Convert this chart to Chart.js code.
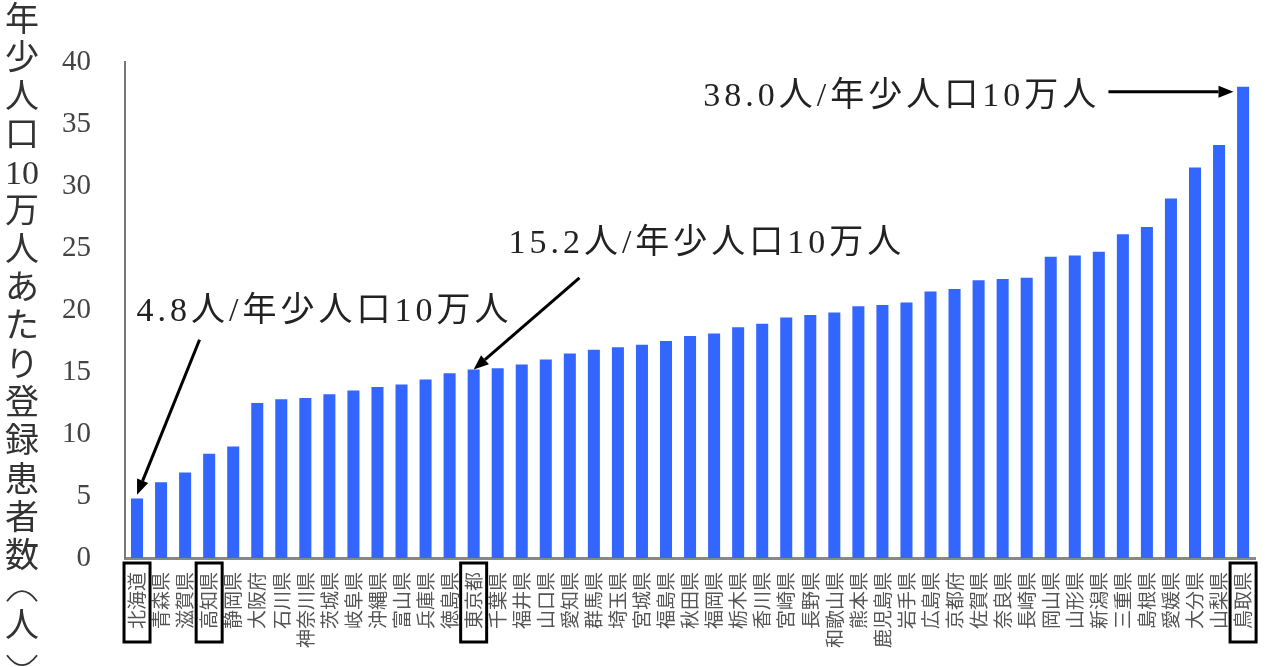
<!DOCTYPE html>
<html>
<head>
  <meta charset="utf-8">
  <title>年少人口10万人あたり登録患者数</title>
  <script src="https://cdn.jsdelivr.net/npm/chart.js"></script>
  <style>
    html, body { margin: 0; padding: 0; background: #fff; }
    #wrap { position: relative; width: 1272px; height: 667px; }
  </style>
</head>
<body>
  <div id="wrap"><canvas id="bars"></canvas></div>

  <script>
    // prefectures, sorted ascending
    const prefectures = [
      '北海道', '青森県', '滋賀県', '高知県', '静岡県', '大阪府', '石川県', '神奈川県',
      '茨城県', '岐阜県', '沖縄県', '富山県', '兵庫県', '徳島県', '東京都', '千葉県',
      '福井県', '山口県', '愛知県', '群馬県', '埼玉県', '宮城県', '福島県', '秋田県',
      '福岡県', '栃木県', '香川県', '宮崎県', '長野県', '和歌山県', '熊本県', '鹿児島県',
      '岩手県', '広島県', '京都府', '佐賀県', '奈良県', '長崎県', '岡山県', '山形県',
      '新潟県', '三重県', '島根県', '愛媛県', '大分県', '山梨県', '鳥取県'
    ];
    const patients = [
      4.8, 6.1, 6.9, 8.4, 9.0, 12.5, 12.8, 12.9,
      13.2, 13.5, 13.8, 14.0, 14.4, 14.9, 15.2, 15.3,
      15.6, 16.0, 16.5, 16.8, 17.0, 17.2, 17.5, 17.9,
      18.1, 18.6, 18.9, 19.4, 19.6, 19.8, 20.3, 20.4,
      20.6, 21.5, 21.7, 22.4, 22.5, 22.6, 24.3, 24.4,
      24.7, 26.1, 26.7, 29.0, 31.5, 33.3, 38.0
    ];
    const boxed = ['北海道', '高知県', '東京都', '鳥取県'];
    // vertical axis title; '(' and ')' are drawn as flat arcs
    const yTitle = ['年', '少', '人', '口', '10', '万', '人', 'あ', 'た', 'り', '登', '録', '患', '者', '数', '（', '人', '）'];

    // callouts: text placed in data units, arrow from (fromX, fromY) to the bar
    const callouts = [
      { text: '4.8人/年少人口10万人', tx: 7.8, ty: 19.8, fromX: 2.6, fromY: 17.6, toX: 0, toY: 5.1 },
      { text: '15.2人/年少人口10万人', tx: 23.7, ty: 25.3, fromX: 18.4, fromY: 22.6, toX: 14, toY: 15.2 },
      { text: '38.0人/年少人口10万人', tx: 31.8, ty: 37.2, fromX: 40.4, fromY: 37.6, toX: 45.6, toY: 37.6 }
    ];

    const canvas = document.getElementById('bars');
    canvas.width = 1272;
    canvas.height = 667;
    const ctx = canvas.getContext('2d');

    const LABEL_FONT = '19px "Noto Sans CJK JP"';
    const NOTE_FONT = '34px "Liberation Serif", "Noto Sans CJK JP"';

    function arrow(c, x1, y1, x2, y2) {
      const ang = Math.atan2(y2 - y1, x2 - x1);
      const head = 15, half = 6;
      const bx = x2 - head * Math.cos(ang), by = y2 - head * Math.sin(ang);
      c.beginPath();
      c.moveTo(x1, y1);
      c.lineTo(bx, by);
      c.stroke();
      c.beginPath();
      c.moveTo(x2, y2);
      c.lineTo(bx + half * Math.sin(ang), by - half * Math.cos(ang));
      c.lineTo(bx - half * Math.sin(ang), by + half * Math.cos(ang));
      c.closePath();
      c.fill();
    }

    const extras = {
      id: 'extras',
      afterDraw(chart) {
        const c = chart.ctx;
        const xs = chart.scales.x, ys = chart.scales.y;
        c.save();

        // y title, stacked vertically
        c.fillStyle = '#333';
        c.strokeStyle = '#333';
        c.lineWidth = 1.8;
        c.font = '34px "Liberation Serif", "Noto Sans CJK JP"';
        c.textAlign = 'center';
        c.textBaseline = 'middle';
        let y = 22;
        yTitle.forEach((ch, i) => {
          if (ch === '（' || ch === '）') {
            const d = ch === '（' ? 1 : -1;
            c.beginPath();
            c.moveTo(7, y + 6 * d);
            c.quadraticCurveTo(22, y - 14 * d, 37, y + 6 * d);
            c.stroke();
          } else {
            c.fillText(ch, 22, y);
          }
          y += i < 14 ? 38.3 : (i === 14 ? 37 : 33);
        });

        // boxes round highlighted labels
        c.font = LABEL_FONT;
        c.strokeStyle = '#000';
        c.lineWidth = 3;
        boxed.forEach(name => {
          const i = prefectures.indexOf(name);
          const px = xs.getPixelForValue(i);
          const w = c.measureText(name).width;
          c.strokeRect(px - 13, xs.top + 5, 26, w + 22);
        });

        // callouts
        c.font = NOTE_FONT;
        c.letterSpacing = '4px';
        callouts.forEach(a => {
          c.fillStyle = '#222';
          c.fillText(a.text, xs.getPixelForValue(a.tx), ys.getPixelForValue(a.ty));
          c.strokeStyle = '#000';
          c.fillStyle = '#000';
          c.lineWidth = 3;
          arrow(c, xs.getPixelForValue(a.fromX), ys.getPixelForValue(a.fromY),
                xs.getPixelForValue(a.toX), ys.getPixelForValue(a.toY));
        });
        c.restore();
      }
    };

    new Chart(ctx, {
      type: 'bar',
      data: {
        labels: prefectures,
        datasets: [{
          data: patients,
          backgroundColor: '#3366ff',
          borderWidth: 0,
          categoryPercentage: 1.0,
          barPercentage: 0.5
        }]
      },
      options: {
        responsive: false,
        animation: false,
        layout: { padding: { left: 0, right: 10, top: 62, bottom: 0 } },
        plugins: {
          legend: { display: false },
          tooltip: { enabled: false }
        },
        scales: {
          x: {
            grid: { display: false },
            border: { display: true, color: '#888', width: 3 },
            ticks: {
              autoSkip: false,
              maxRotation: 90,
              minRotation: 90,
              padding: 6,
              color: '#555',
              font: { family: 'Noto Sans CJK JP', size: 19 }
            },
            afterFit(s) { s.height = 109; }
          },
          y: {
            min: 0,
            max: 40,
            grid: { display: false },
            border: { display: true, color: '#777', width: 2 },
            ticks: {
              stepSize: 5,
              padding: 26,
              color: '#444',
              font: { family: 'Liberation Serif', size: 29 }
            },
            afterFit(s) { s.width = 125; }
          }
        }
      },
      plugins: [extras]
    });
  </script>
</body>
</html>
